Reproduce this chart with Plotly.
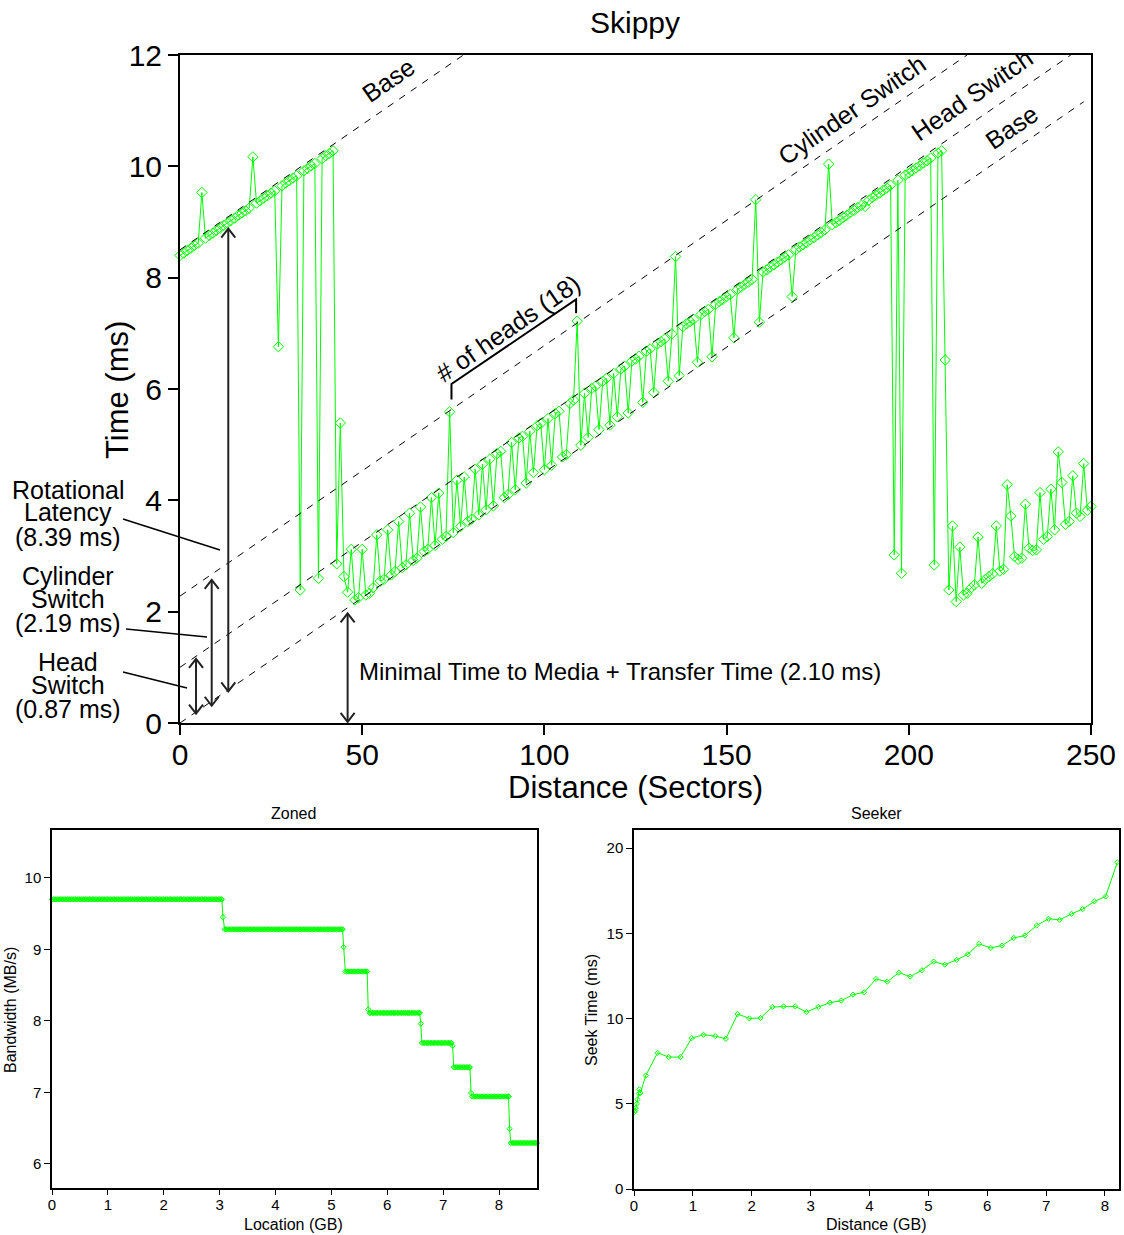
import numpy as np
import plotly.graph_objects as go

W, H = 1124, 1235
FONT = "Liberation Sans, Arial, Helvetica, sans-serif"
GREEN = "#00ff00"

# ---------------- Skippy data (one point per sector) ----------------
distance_sectors = list(range(0, 251))
time_ms = [
    8.40, 8.44, 8.49, 8.53, 8.58, 8.62, 9.53, 8.71, 8.76, 8.80,
    8.85, 8.89, 8.94, 8.98, 9.03, 9.07, 9.12, 9.16, 9.20, 9.25,
    10.17, 9.34, 9.38, 9.43, 9.47, 9.52, 9.56, 6.76, 9.65, 9.70,
    9.74, 9.79, 9.83, 2.39, 9.92, 9.96, 10.01, 10.05, 2.60, 10.14,
    10.19, 10.23, 10.28, 2.86, 5.39, 2.63, 2.35, 3.12, 2.21, 2.25,
    3.12, 2.30, 2.33, 2.43, 3.38, 2.55, 2.58, 3.47, 2.66, 2.72,
    3.62, 2.79, 2.84, 3.77, 2.92, 2.96, 3.88, 3.08, 3.12, 4.05,
    3.19, 4.13, 3.30, 3.35, 5.59, 3.42, 4.36, 3.53, 4.42, 3.62,
    3.66, 4.56, 3.74, 4.65, 3.83, 4.74, 3.90, 4.84, 4.88, 4.05,
    4.10, 5.04, 4.19, 5.12, 5.15, 4.31, 5.24, 4.50, 5.34, 5.38,
    4.55, 5.47, 4.63, 5.56, 5.60, 4.78, 4.82, 5.74, 5.80, 7.22,
    4.99, 5.92, 5.13, 6.01, 6.05, 5.27, 6.14, 6.19, 5.35, 6.28,
    5.50, 6.36, 6.41, 5.57, 6.50, 6.54, 6.59, 5.76, 6.68, 6.72,
    5.94, 6.81, 6.85, 6.90, 6.14, 6.99, 8.38, 6.24, 7.12, 7.17,
    7.21, 7.25, 6.48, 7.34, 7.39, 7.43, 6.58, 7.52, 7.57, 7.61,
    7.66, 7.70, 6.92, 7.79, 7.83, 7.88, 7.92, 7.97, 9.40, 7.20,
    8.10, 8.14, 8.19, 8.23, 8.28, 8.32, 8.37, 8.41, 7.66, 8.50,
    8.55, 8.59, 8.63, 8.68, 8.72, 8.77, 8.81, 8.86, 10.04, 8.95,
    8.99, 9.03, 9.08, 9.12, 9.17, 9.21, 9.26, 9.30, 9.28, 9.39,
    9.44, 9.48, 9.52, 9.57, 9.61, 9.66, 3.02, 9.75, 2.69, 9.84,
    9.88, 9.92, 9.97, 10.01, 10.06, 10.10, 10.15, 2.84, 10.24, 10.28,
    6.52, 2.39, 3.54, 2.18, 3.16, 2.30, 2.33, 2.42, 2.48, 3.34,
    2.51, 2.58, 2.63, 2.68, 3.54, 2.73, 2.76, 4.28, 3.72, 2.99,
    2.94, 2.96, 3.93, 3.14, 3.10, 3.11, 4.14, 3.30, 3.35, 4.20,
    3.47, 4.87, 4.32, 3.57, 3.62, 4.44, 3.77, 3.71, 4.66, 3.82,
    3.89,
]

# guide lines: name, intercept (ms), label position (sector, ms)
guide_names = ["Base", "Head Switch", "Cylinder Switch", "Base"]
guide_intercepts = [0.0, 1.0, 2.28, 8.5]
guide_slope = 0.045
guide_label_x = [228.2, 217.3, 184.3, 57.2]
guide_label_y = [10.71, 11.28, 11.01, 11.55]

# double-headed arrows (sector, bottom ms, top ms)
arrow_x = [4.4, 8.7, 13.25, 46.0]
arrow_y0 = [0.17, 0.31, 0.57, 0.02]
arrow_y1 = [1.15, 2.57, 8.88, 1.97]

# ---------------- Zoned data ----------------
zone_start = [0.0, 3.09, 5.25, 5.68, 6.62, 7.19, 7.52, 8.21]
zone_end = [3.04, 5.20, 5.64, 6.58, 7.15, 7.48, 8.17, 8.68]
zone_bw = [9.70, 9.28, 8.69, 8.11, 7.69, 7.35, 6.94, 6.29]
trans_loc = [3.06, 5.22, 5.66, 6.60, 7.17, 7.50, 8.19]
trans_bw = [9.45, 9.03, 8.16, 7.96, 7.65, 6.99, 6.49]

# ---------------- Seeker data ----------------
seek_dist = [0.01, 0.02, 0.03, 0.05, 0.06, 0.08, 0.09, 0.11, 0.20, 0.40, 0.59, 0.79,
             0.98, 1.18, 1.38, 1.56, 1.76, 1.96, 2.15, 2.35, 2.54, 2.74, 2.93,
             3.13, 3.33, 3.52, 3.72, 3.91, 4.11, 4.30, 4.50, 4.69, 4.89, 5.09,
             5.28, 5.48, 5.67, 5.86, 6.06, 6.25, 6.45, 6.64, 6.84, 7.04, 7.23,
             7.43, 7.62, 7.82, 8.01, 8.21]
seek_time = [4.52, 4.60, 4.75, 5.00, 5.25, 5.60, 5.85, 5.64, 6.66, 7.99, 7.74, 7.74,
             8.85, 9.05, 8.97, 8.81, 10.26, 10.01, 10.03, 10.68, 10.71, 10.71, 10.38,
             10.68, 10.93, 11.05, 11.40, 11.54, 12.32, 12.16, 12.69, 12.46, 12.83, 13.34,
             13.16, 13.44, 13.77, 14.38, 14.14, 14.28, 14.73, 14.87, 15.46, 15.85, 15.79,
             16.14, 16.42, 16.87, 17.16, 19.16]

# ---------------- layout geometry ----------------
def px(x):
    return x / W


def py(y):
    return 1 - y / H


main_l, main_r, main_t, main_b = 180, 1091, 55, 723
X_MAX, Y_MAX = 250, 12
pps = (main_r - main_l) / X_MAX      # pixels per sector
ppm = (main_b - main_t) / Y_MAX      # pixels per ms
angle = -np.degrees(np.arctan(guide_slope * ppm / pps))

fig = go.Figure()

fig.add_trace(go.Scatter(
    x=distance_sectors, y=time_ms, mode="lines+markers",
    line=dict(color=GREEN, width=1),
    marker=dict(symbol="diamond-open", size=8, color=GREEN, line=dict(width=1, color=GREEN)),
    cliponaxis=False, showlegend=False, xaxis="x", yaxis="y"))

# zoned trace
z_x, z_y = [], []
for s, e, b in zip(zone_start, zone_end, zone_bw):
    pts = list(np.arange(s, e, 0.025)) + [e]
    z_x += pts
    z_y += [b] * len(pts)
z_x += trans_loc
z_y += trans_bw
order = np.argsort(z_x, kind="stable")
z_x = [z_x[i] for i in order]
z_y = [z_y[i] for i in order]
fig.add_trace(go.Scatter(
    x=z_x, y=z_y, mode="lines+markers",
    line=dict(color=GREEN, width=1),
    marker=dict(symbol="diamond-open", size=4, color=GREEN, line=dict(width=1, color=GREEN)),
    cliponaxis=False, showlegend=False, xaxis="x2", yaxis="y2"))

fig.add_trace(go.Scatter(
    x=seek_dist, y=seek_time, mode="lines+markers",
    line=dict(color=GREEN, width=1),
    marker=dict(symbol="diamond-open", size=4, color=GREEN, line=dict(width=1, color=GREEN)),
    cliponaxis=False, showlegend=False, xaxis="x3", yaxis="y3"))

shapes = []
annotations = []

# dashed guide lines + labels
for name, c, lx, ly in zip(guide_names, guide_intercepts, guide_label_x, guide_label_y):
    x1 = min(248.0, (Y_MAX - c) / guide_slope)
    shapes.append(dict(type="line", xref="x", yref="y", x0=0, y0=c, x1=x1,
                       y1=c + guide_slope * x1,
                       line=dict(color="black", width=1, dash="7px,7px")))
    annotations.append(dict(x=lx, y=ly, xref="x", yref="y", text=name, showarrow=False,
                            textangle=angle, font=dict(size=25, color="black", family=FONT),
                            xanchor="center", yanchor="middle"))

# double-headed arrows
hw, hh = 7 / pps, 9 / ppm
for ax_, a0, a1 in zip(arrow_x, arrow_y0, arrow_y1):
    shapes.append(dict(type="line", xref="x", yref="y", x0=ax_, x1=ax_, y0=a0, y1=a1,
                       line=dict(color="#222222", width=2)))
    shapes.append(dict(type="path", xref="x", yref="y",
                       path=f"M {ax_-hw},{a1-hh} L {ax_},{a1} L {ax_+hw},{a1-hh}",
                       line=dict(color="#222222", width=2)))
    shapes.append(dict(type="path", xref="x", yref="y",
                       path=f"M {ax_-hw},{a0+hh} L {ax_},{a0} L {ax_+hw},{a0+hh}",
                       line=dict(color="#222222", width=2)))

# "# of heads" bracket
bx0, bx1 = 74.5, 108.7
shapes.append(dict(type="path", xref="x", yref="y",
                   path=f"M {bx0},5.81 L {bx0},6.09 L {bx1},7.61 L {bx1},7.36",
                   line=dict(color="black", width=2)))
annotations.append(dict(x=90.1, y=7.09, xref="x", yref="y", text="# of heads (18)",
                        showarrow=False, textangle=angle,
                        font=dict(size=25, color="black", family=FONT)))

annotations.append(dict(x=px(357), y=py(671), xref="paper", yref="paper",
                        text="Minimal Time to Media + Transfer Time (2.10 ms)",
                        showarrow=False, xanchor="left", yanchor="middle",
                        font=dict(size=24, color="black", family=FONT)))

# left explanatory text (one annotation per line, tight line spacing as in the reference)
left_lines = [("Rotational", 490), ("Latency", 512), ("(8.39 ms)", 537),
              ("Cylinder", 576), ("Switch", 599), ("(2.19 ms)", 623),
              ("Head", 662), ("Switch", 685), ("(0.87 ms)", 709)]
for t, yy in left_lines:
    annotations.append(dict(x=px(68), y=py(yy), xref="paper", yref="paper", text=t,
                            showarrow=False, xanchor="center", yanchor="middle",
                            font=dict(size=25, color="black", family=FONT)))
leaders = [((123, 519), (220, 550)), ((126, 629), (207, 637)), ((123, 672), (187, 688))]
for (xa, ya), (xb, yb) in leaders:
    shapes.append(dict(type="line", xref="paper", yref="paper", x0=px(xa), y0=py(ya),
                       x1=px(xb), y1=py(yb), line=dict(color="black", width=1.5)))

# titles
def txt(t, x, y, size, angle_=0):
    annotations.append(dict(x=px(x), y=py(y), xref="paper", yref="paper", text=t,
                            showarrow=False, xanchor="center", yanchor="middle",
                            textangle=angle_, font=dict(size=size, color="black", family=FONT)))

txt("Skippy", 635, 23, 30)
txt("Time (ms)", 117, 390, 31, -90)
txt("Distance (Sectors)", 635, 787, 31)
txt("Zoned", 293, 813, 16)
txt("Location (GB)", 293, 1224, 16)
txt("Bandwidth (MB/s)", 11, 1010, 16, -90)
txt("Seeker", 876, 813, 16)
txt("Distance (GB)", 876, 1224, 16)
txt("Seek Time (ms)", 592, 1010, 16, -90)

axis_common = dict(showline=True, linecolor="black", mirror=True, ticks="outside",
                   tickcolor="black", showgrid=False, zeroline=False, automargin=False)

fig.update_layout(
    template="none",
    width=W, height=H, margin=dict(l=0, r=0, t=0, b=0, pad=0, autoexpand=False),
    paper_bgcolor="white", plot_bgcolor="white", showlegend=False,
    font=dict(family=FONT, color="black"),
    shapes=shapes, annotations=annotations,
    xaxis=dict(domain=[px(main_l), px(main_r)], range=[0, X_MAX], tickvals=[0, 50, 100, 150, 200, 250],
               anchor="y", linewidth=2, ticklen=10, tickwidth=2, ticklabelstandoff=-6,
               tickfont=dict(size=30, family=FONT), **axis_common),
    yaxis=dict(domain=[py(main_b), py(main_t)], range=[0, Y_MAX], tickvals=[0, 2, 4, 6, 8, 10, 12],
               anchor="x", linewidth=2, ticklen=10, tickwidth=2,
               tickfont=dict(size=30, family=FONT), **axis_common),
    xaxis2=dict(domain=[px(52), px(537)], range=[0, 8.68], tickvals=list(range(0, 9)),
                anchor="y2", linewidth=1.5, ticklen=5, tickwidth=1, ticklabelstandoff=-3,
                tickfont=dict(size=15, family=FONT), **axis_common),
    yaxis2=dict(domain=[py(1188), py(830)], range=[5.66, 10.67], tickvals=[6, 7, 8, 9, 10],
                anchor="x2", linewidth=1.5, ticklen=6, tickwidth=1,
                tickfont=dict(size=15, family=FONT), **axis_common),
    xaxis3=dict(domain=[px(634), px(1119)], range=[0, 8.238], tickvals=list(range(0, 9)),
                anchor="y3", linewidth=1.5, ticklen=5, tickwidth=1, ticklabelstandoff=-3,
                tickfont=dict(size=15, family=FONT), **axis_common),
    yaxis3=dict(domain=[py(1189), py(830)], range=[0, 21.06], tickvals=[0, 5, 10, 15, 20],
                anchor="x3", linewidth=1.5, ticklen=6, tickwidth=1,
                tickfont=dict(size=15, family=FONT), **axis_common),
)

fig.write_html("out.html")
